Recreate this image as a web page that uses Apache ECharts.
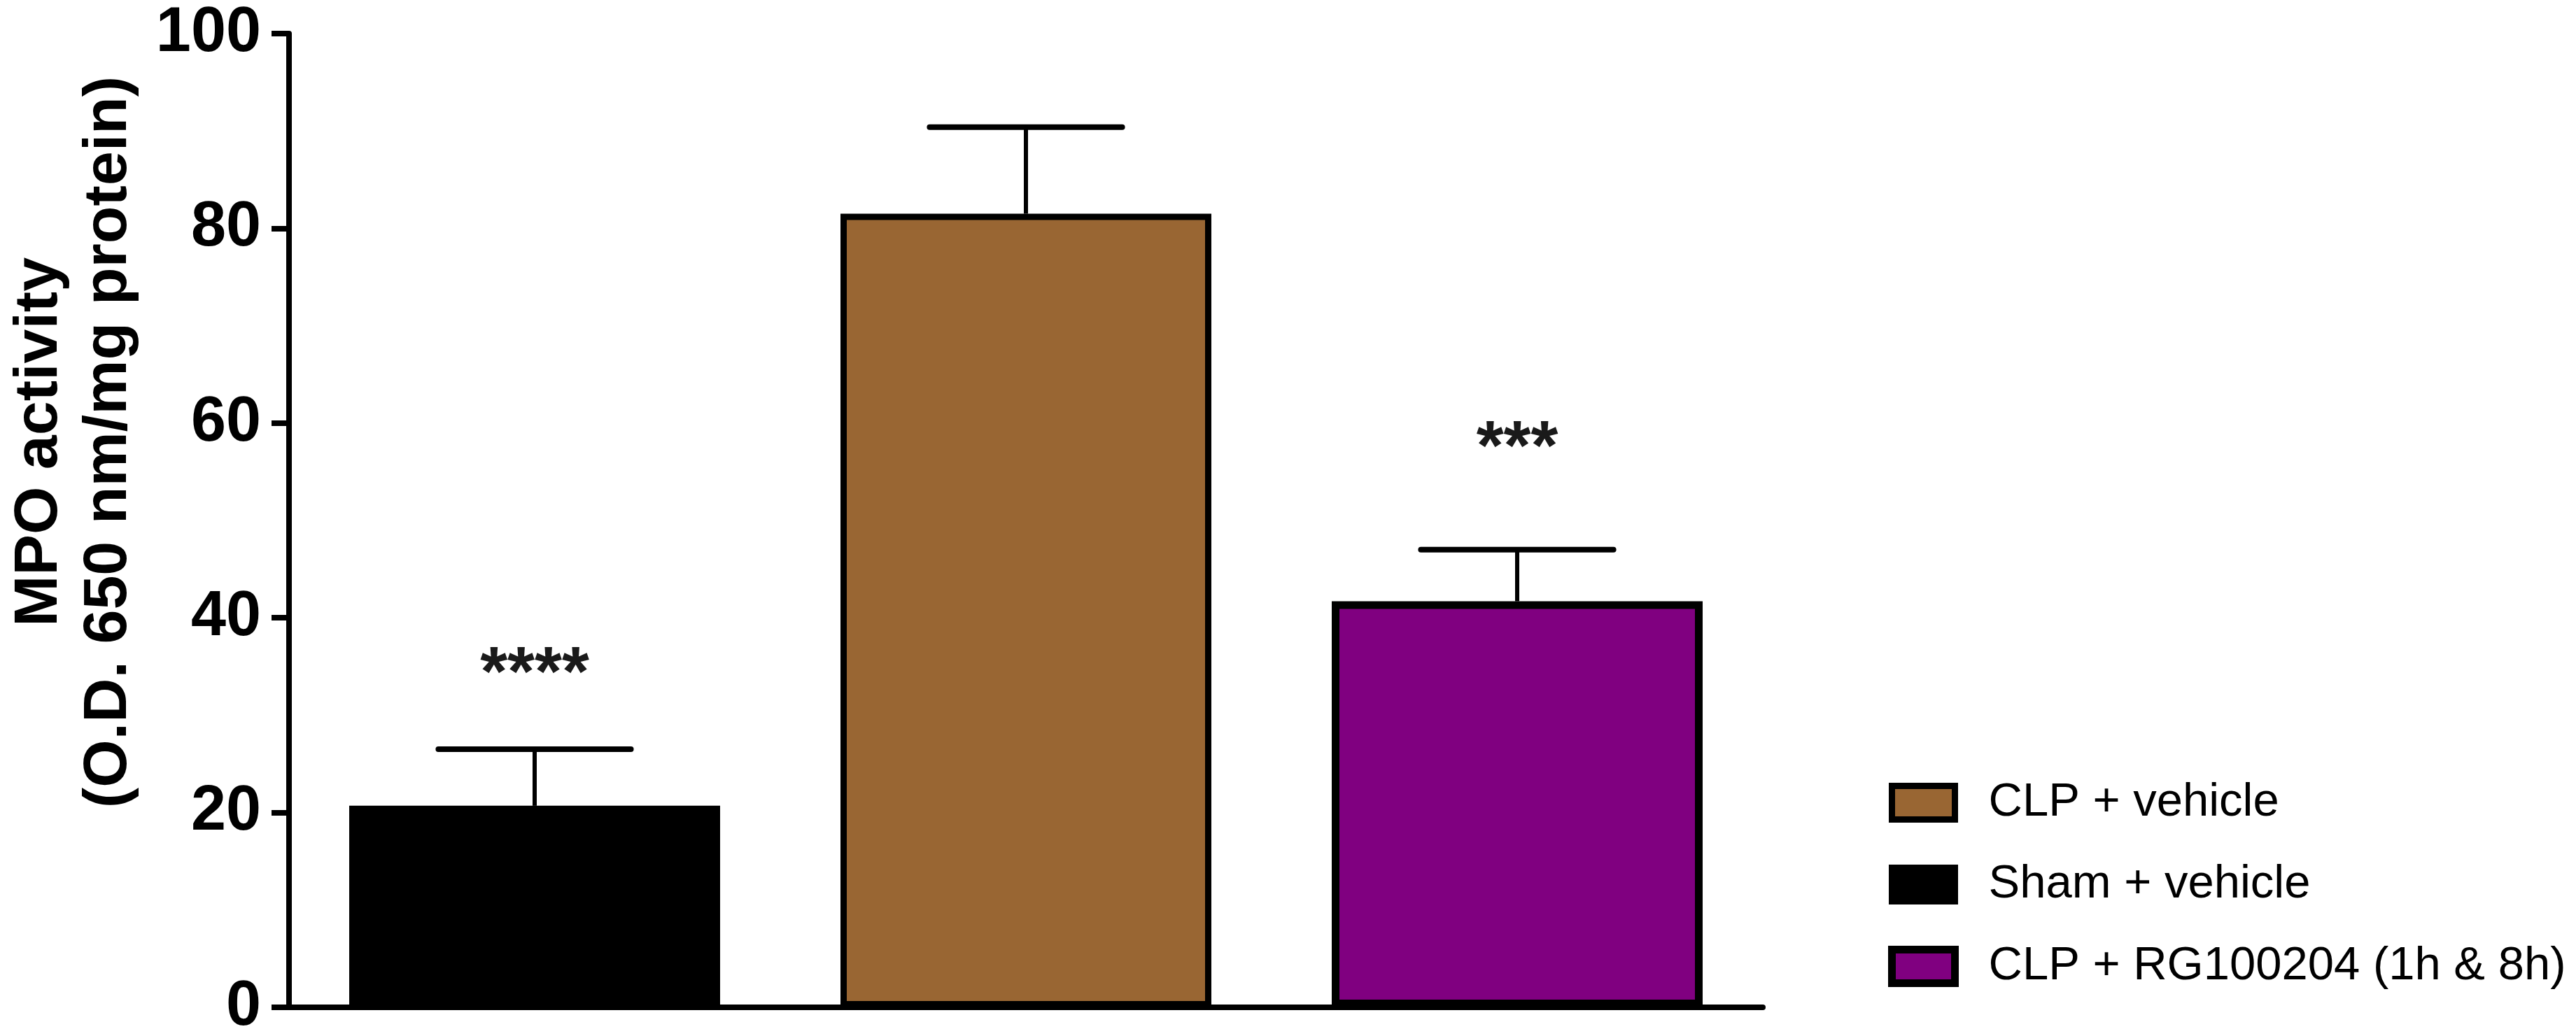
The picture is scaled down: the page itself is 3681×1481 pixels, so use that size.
<!DOCTYPE html>
<html>
<head>
<meta charset="utf-8">
<script src="https://cdn.jsdelivr.net/npm/echarts@6/dist/echarts.min.js"></script>
<style>
  html, body { margin: 0; padding: 0; background: #ffffff; }
  #chart { width: 3681px; height: 1481px; }
</style>
</head>
<body>
<div id="chart"></div>
<script>
// ---- data ----
const categories = ['Sham + vehicle', 'CLP + vehicle', 'CLP + RG100204 (1h & 8h)'];
const means = [20.7, 81.5, 41.7];
const upperErr = [26.5, 90.4, 47.0];
const sigLabels = ['****', '', '***'];
const sigLabelValue = [34.0, null, 57.2];
const legendOrder = ['CLP + vehicle', 'Sham + vehicle', 'CLP + RG100204 (1h & 8h)'];
const barColors = ['#000000', '#996633', '#800080'];
const yTicks = { min: 0, max: 100, interval: 20 };
const yTitle = 'MPO activity\n(O.D. 650 nm/mg protein)';

// ---- styles ----
const borderWidths = [9, 9, 11];
const FONT = '"Liberation Sans", Arial, Helvetica, sans-serif';

const chart = echarts.init(document.getElementById('chart'), null, { renderer: 'canvas' });

const barSeries = categories.map((name, i) => ({
  name: name,
  type: 'bar',
  data: categories.map((c, j) => (j === i ? means[i] : '-')),
  barWidth: 530,
  barGap: '-100%',
  itemStyle: { color: barColors[i], borderColor: '#000000', borderWidth: borderWidths[i] },
  emphasis: { disabled: true },
  z: 2
}));

const errSeries = {
  type: 'custom',
  name: 'err',
  data: categories.map((c, i) => [i, means[i], upperErr[i]]),
  renderItem: function (params, api) {
    const i = api.value(0);
    const pMean = api.coord([i, api.value(1)]);
    const pUp = api.coord([i, api.value(2)]);
    const band = api.size([1, 0])[0];
    const half = band * 0.196;
    const children = [
      { type: 'line', shape: { x1: pMean[0], y1: pMean[1], x2: pUp[0], y2: pUp[1] },
        style: { stroke: '#000', lineWidth: 6 } },
      { type: 'line', shape: { x1: pUp[0] - half, y1: pUp[1], x2: pUp[0] + half, y2: pUp[1] },
        style: { stroke: '#000', lineWidth: 8, lineCap: 'round' } }
    ];
    if (sigLabels[i] && sigLabelValue[i] != null) {
      const pS = api.coord([i, sigLabelValue[i]]);
      children.push({ type: 'text', style: { text: sigLabels[i], x: pS[0], y: pS[1],
        align: 'center', verticalAlign: 'middle', font: 'bold 100px ' + FONT, fill: '#1a1a1a' } });
    }
    return { type: 'group', children: children };
  },
  z: 3,
  silent: true
};

const legendData = legendOrder.map(n => {
  const i = categories.indexOf(n);
  return { name: n, itemStyle: { color: barColors[i], borderColor: '#000', borderWidth: borderWidths[i] } };
});

chart.setOption({
  animation: false,
  backgroundColor: '#ffffff',
  grid: { left: 413, right: 1162, top: 48, bottom: 41, containLabel: false, outerBoundsMode: 'none' },
  legend: {
    orient: 'vertical',
    left: 2693,
    top: 1109,
    itemWidth: 90,
    itemHeight: 48,
    itemGap: 50,
    icon: 'rect',
    data: legendData,
    selectedMode: false,
    textStyle: { fontFamily: FONT, fontSize: 67, color: '#000', lineHeight: 48, padding: [0, 0, 0, 43] }
  },
  xAxis: {
    type: 'category',
    data: categories,
    axisLine: { show: true, lineStyle: { color: '#000', width: 8 } },
    axisTick: { show: false },
    axisLabel: { show: false },
    splitLine: { show: false }
  },
  yAxis: {
    type: 'value',
    min: yTicks.min,
    max: yTicks.max,
    interval: yTicks.interval,
    axisLine: { show: true, lineStyle: { color: '#000', width: 8 } },
    axisTick: { show: true, inside: false, length: 25, lineStyle: { color: '#000', width: 8 } },
    axisLabel: { color: '#000', fontFamily: FONT, fontWeight: 'bold', fontSize: 90, margin: 40 },
    splitLine: { show: false }
  },
  graphic: [{
    type: 'text',
    x: 106,
    y: 632,
    rotation: Math.PI / 2,
    style: { text: yTitle, font: 'bold 88px ' + FONT, fill: '#000', align: 'center', verticalAlign: 'middle', lineHeight: 99 }
  }],
  series: barSeries.concat([errSeries])
});
</script>
</body>
</html>
